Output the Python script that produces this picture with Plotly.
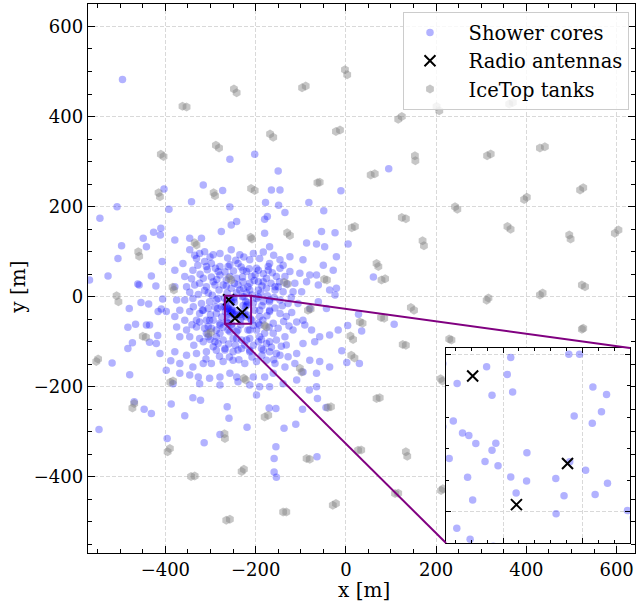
import plotly.graph_objects as go

# ---------------- data ----------------
core_x = [
    -242, -180, -169, -254, -54, -24, -276, -320, -346, -379, -87, -65, -47, -346, -324, -313, -294, -254, -235, -213,
    -191, -169, -146, -124, -95, -50, -21, -331, -313, -298, -361, -379, -339, -279, -261, -239, -220, -194, -172, -146,
    -124, -102, -80, -65, -28, -357, -316, -279, -257, -242, -228, -209, -194, -176, -154, -135, -113, -87, -61, -36,
    -21, -379, -353, -335, -309, -290, -272, -254, -235, -213, -194, -176, -157, -139, -117, -98, -375, -357, -339, -320,
    -302, -287, -276, -198, -183, -169, -146, -128, -106, -80, -61, -43, -24, -368, -346, -324, -305, -287, -202, -191,
    -169, -146, -132, -109, -95, -379, -357, -331, -309, -294, -279, -209, -194, -375, -353, -331, -313, -298, -279, -261,
    -242, -217, -198, -180, -161, -135, -117, -91, -76, -58, -36, -17, -368, -346, -324, -305, -290, -272, -250, -231,
    -213, -194, -176, -154, -132, -95, -69, -379, -353, -331, -309, -287, -268, -250, -231, -213, -187, -169, -146, -128,
    -109, -80, -58, -36, -368, -339, -316, -298, -272, -250, -224, -198, -176, -157, -135, -113, -95, -65, -368, -346,
    -327, -302, -279, -257, -242, -205, -180, -161, -139, -109, -65, -383, -324, -279, -239, -213, -191, -169,
    -309, -283, -257, -228, -198, -172, -324, -294, -265, -239, -213, -183, -157, -305, -283, -220, -194, -169, -316, -290,
    -191, -169, -302, -279, -239, -213, -191, -161, -309, -287, -257, -242, -220, -191, -169, -294, -268, -239, -213, -183,
    -154,
    -335, -301, -279, -262, -244, -226, -205, -183, -160, -139, -328, -307, -289, -268, -249, -232, -214, -201, -183, -163,
    -147, -342, -323, -298, -286, -265, -247, -229, -217, -203, -186, -166, -150, -131, -346, -327, -313, -296, -281, -263,
    -242, -227, -208, -189, -174, -159, -141, -121, -338, -318, -300, -284, -275, -205, -186, -175, -157, -138, -120, -341,
    -324, -305, -287, -272, -253, -233, -205, -184, -170, -150, -126, -337, -316, -301, -283, -260, -245, -224, -205, -187,
    -165, -143, -310, -280, -258, -237, -208, -186, -160,
    -495, -545, -507, -403, -392, -342, -316, -273, -257, -257, -202, -150, -165, -146, -178, -149, -135, -82, -180, -174,
    -568, -527, -505, -497, -461, -458, -449, -442, -426, -410, -411, -407, -431, -421,
    95, -11, -49, 5, 61, -9, 2, 30, 4, 35, 28, 107,
    -63, -96, -44, -111, -137, -170, -155, -155, -159, -159, -154, -64, -81,
    -483, -473, -483, -518, -479, -547, -469, -447, -431, -387, -396, -357, -339, -322, -314, -279, -263, -259, -219, -198,
    -398, -388, -420, -412, -442, -435, -416, -398, -466, -480, -454, -437, -406, -409, -435, -417,
    -269, -264.5, -255.2, -247.6, -248.7, -253.5, -247, -229.3, -225.9, -221.7, -217.4, -219, -227.6, -221.9, -265.7,
    -269, -262.8, -260.8, -258.6, -252.3, -253.5, -267, -255.7, -251.6, -242.5, -261.2, -247.6, -242.6, -233.4, -229,
    -224, -217.1, -259.6, -245.9, -230.8, -221, -233.3, -210.8, -264.6, -260.4, -253.1,
]
core_y = [
    167, 141, 111, 159, 145, 142, 145, 130, 130, 126, 119, 117, 111, 104, 96, 100, 93, 104, 93, 82,
    85, 74, 82, 89, 82, 70, 89, 85, 78, 74, 74, 59, 59, 67, 67, 74, 56, 59, 59, 63,
    56, 52, 48, 48, 59, 45, 41, 48, 45, 41, 33, 45, 33, 41, 45, 45, 30, 33, 26, 15,
    19, 22, 22, 26, 22, 26, 26, 19, 15, 15, 15, 19, 15, 11, 11, 11, -7, -7, -4, -15,
    -11, -7, -22, -4, -11, -11, -7, -15, -15, -26, -11, -26, 4, -30, -33, -37, -26, -37, -30, -44,
    -30, -37, -44, -56, -52, -44, -52, -52, -52, -52, -59, -52, -59, -67, -74, -67, -70, -70, -81, -74,
    -78, -74, -74, -81, -81, -89, -74, -63, -74, -89, -85, -74, -89, -89, -93, -89, -100, -96, -93, -96,
    -93, -100, -104, -96, -107, -104, -100, -122, -130, -126, -122, -119, -115, -122, -115, -119, -115, -122, -130, -133,
    -126, -141, -144, -156, -148, -156, -148, -148, -144, -141, -148, -144, -141, -148, -156, -148, -167, -170, -170, -174,
    -178, -181, -178, -170, -178, -178, -178, -170, -193, -185, -200, -193, -193, -196, -189, -196, -200, -200,
    67, 56, 71, 59, 63, 67, 30, 33, 37, 26, 30, 33, 22, 8, -4, 8, 0, -7, -30, -22,
    -30, -33, -52, -63, -74, -74, -63, -59, -81, -89, -78, -93, -96, -89, -100, -111, -118, -118, -122, -118,
    -126,
    92, 88, 96, 86, 81, 88, 96, 99, 92, 70, 70, 60, 63, 55, 57, 66, 62, 49, 51, 53,
    33, 40, 50, 44, 38, 24, 30, 44, 22, 36, 24, 30, 22, 28, 10, 5, 14, 3, 15, 8,
    9, 18, 4, 8, 2, -2, -20, -2, -22, -30, -40, -26, -45, -14, -20, -42, -25, -55, -35, -62,
    -56, -66, -74, -68, -66, -62, -64, -52, -68, -70, -65, -108, -100, -95, -104, -105, -108, -107, -108, -95,
    -112, -110, -138, -132, -134, -140, -134, -130, -140,
    482, 174, 200, 239, 194, 211, 248, 236, 199, 305, 316, 279, 237, 237, 209, 203, 187, 209, 172, 178,
    37, 46, 85, 113, 28, 26, 130, 111, 143, 152, 137, 78, 46, 24,
    284, 235, 191, 117, 44, -120, -146, -148, -64, -76, -39, -61,
    -226, -250, -246, -283, -292, -247, -248, -333, -359, -389, -401, -355, -207,
    -68, -102, -115, -147, -173, -295, -233, -250, -259, -238, -315, -264, -224, -230, -324, -306, -244, -270, -290, -218,
    -163, -142, -104, -126, -63, -63, -33, -33, -61, -26, -13, -16, -5, -27, -101, -86,
    -3, -9.3, -4, -1, -6.4, -13, -12, 0, 0, -10.4, -12.8, -18.3, -19.6, -21.9, -21.2,
    -23, -25, -25.8, -28.4, -28.3, -30.5, -33.1, -34.1, -35.4, -31.3, -39.1, -39, -40.3, -39.5, -34.2,
    -36.9, -41, -46.3, -44.1, -45, -44.6, -50.7, -49.7, -55.3, -58.8, -61,
]

tank_x = [
    -362, -353, -248, -242, -97, -89, -410, -404, -288, -281, -168, -161, -415, -412, -293, -290, -210, -202, -63, -58,
    -460, -458, -335, -331, -211, -208, -130, -124, -384, -381, -259, -254, -137, -129, -508, -504, -2, 3, -22, -13,
    116, 124, 201, 207, 362, 370, 55, 64, 153, 154, 313, 321, 430, 441, 13, 20, 124, 133, 242, 247,
    395, 401, 519, 526, 170, 173, 358, 365, 495, 498, 596, 604, 68, 72, 79, 87, -48, -42, 523, 530,
    312, 316, 430, 436, -450, -443, -553, -549, -305, -299, -180, -176, -389, -383, -226, -222, -473, -469, -395, -390,
    -269, -268, -343, -335, -231, -226, -265, -257, -180, -172, -139, -132, -102, -98, -87, -80, -84, -78, 78, 85,
    144, 151, 31, 37, 10, 16, 126, 133, 12, 19, 229, 234, 210, 214, 68, 75, -40, -33, 27, 34,
    133, 136, 109, 116, 211, 215, -29, -22, 523, 526,
]
tank_y = [
    423, 421, 461, 453, 464, 468, 316, 311, 336, 330, 361, 354, 231, 222, 231, 224, 240, 236, 253, 254,
    100, 90, 120, 115, 132, 128, 142, 136, 21, 15, 41, 37, 32, 28, 2, -11, 504, 493, 367, 370,
    394, 400, 422, 413, 428, 431, 270, 273, 313, 302, 313, 317, 330, 333, 153, 156, 176, 173, 200, 194,
    216, 221, 237, 242, 124, 113, 156, 150, 137, 128, 141, 148, 74, 67, 37, 40, 39, 37, 26, 22,
    -8, -3, 4, 8, -88, -90, -144, -138, -83, -79, -64, -67, -190, -187, -181, -185, -247, -237, -344, -337,
    -304, -315, -399, -398, -388, -383, -496, -494, -267, -263, -478, -478, -159, -167, -359, -361, -30, -27, -46, -48,
    -24, -30, -56, -59, -87, -95, -106, -108, -130, -136, -94, -96, -182, -187, -226, -224, -246, -244, -341, -340,
    -344, -354, -437, -436, -430, -426, -463, -459, -72, -70,
]

ant_x = [-259.6, -245.8, -229.7]
ant_y = [-6.9, -47.8, -34.7]

main_xrange = [-571.4, 640.7]
main_yrange = [-568.9, 649.8]
zoom_xrange = [-268, -210]
zoom_yrange = [-60, 2]
inset_xdomain = [0.6545, 0.9909]
inset_ydomain = [0.0182, 0.3734]

FONT = "DejaVu Serif"
PURPLE = "#800080"
GRID = "#d9d9d9"
NB = "\u00a0\u00a0\u00a0"

core_marker = dict(color="rgba(0,0,255,0.3)", size=7.5, line=dict(width=0))
tank_marker = dict(color="rgba(128,128,128,0.45)", size=9, symbol="hexagon", line=dict(width=0))
ant_marker = dict(color="black", size=11, symbol="x-thin", line=dict(width=2, color="black"))

fig = go.Figure()
fig.add_trace(go.Scatter(x=core_x, y=core_y, mode="markers", marker=core_marker,
                         name=NB + "Shower cores", legendrank=1))
fig.add_trace(go.Scatter(x=tank_x, y=tank_y, mode="markers", marker=tank_marker,
                         name=NB + "IceTop tanks", legendrank=3))
fig.add_trace(go.Scatter(x=ant_x, y=ant_y, mode="markers", marker=ant_marker,
                         name=NB + "Radio antennas", legendrank=2))
# inset
fig.add_trace(go.Scatter(x=core_x, y=core_y, mode="markers", marker=core_marker,
                         xaxis="x2", yaxis="y2", showlegend=False))
fig.add_trace(go.Scatter(x=ant_x, y=ant_y, mode="markers", marker=ant_marker,
                         xaxis="x2", yaxis="y2", showlegend=False))

common_axis = dict(
    showline=True, linecolor="black", linewidth=1.4, mirror="allticks",
    ticks="inside", tickcolor="black", tickwidth=1.2,
    showgrid=True, gridcolor=GRID, gridwidth=1, griddash="4px,2px",
    zeroline=False,
)

fig.update_layout(
    width=637, height=607,
    margin=dict(l=88, r=2, t=4, b=54),
    paper_bgcolor="white", plot_bgcolor="white",
    font=dict(family=FONT, size=18, color="black"),
    showlegend=True,
    legend=dict(x=0.989, xanchor="right", y=0.985, yanchor="top",
                bgcolor="rgba(255,255,255,0.8)", bordercolor="#cccccc", borderwidth=1,
                font=dict(family=FONT, size=19.5), indentation=6, tracegroupgap=0),
    xaxis=dict(range=main_xrange, dtick=200, tick0=0, ticklen=7,
               minor=dict(ticks="inside", ticklen=4, dtick=50, tick0=0, tickcolor="black", showgrid=False),
               domain=[0, 1], **common_axis),
    yaxis=dict(range=main_yrange, dtick=200, tick0=0, ticklen=7,
               minor=dict(ticks="inside", ticklen=4, dtick=50, tick0=0, tickcolor="black", showgrid=False),
               domain=[0, 1], **common_axis),
    xaxis2=dict(range=zoom_xrange, domain=inset_xdomain, anchor="y2", dtick=25, tick0=0, ticklen=5,
                showticklabels=False,
                minor=dict(ticks="inside", ticklen=3, dtick=5, tick0=0, tickcolor="black", showgrid=False),
                **common_axis),
    yaxis2=dict(range=zoom_yrange, domain=inset_ydomain, anchor="x2", dtick=50, tick0=0, ticklen=5,
                showticklabels=False,
                minor=dict(ticks="inside", ticklen=3, dtick=10, tick0=0, tickcolor="black", showgrid=False),
                **common_axis),
    annotations=[
        dict(text="x [m]", xref="paper", yref="paper", x=0.5046, y=-0.0674,
             xanchor="center", yanchor="middle", showarrow=False, font=dict(family=FONT, size=20)),
        dict(text="y [m]", xref="paper", yref="paper", x=-0.128, y=0.485, textangle=-90,
             xanchor="center", yanchor="middle", showarrow=False, font=dict(family=FONT, size=20)),
    ],
)

# zoom box and connector lines
def main_x_at(frac):
    return main_xrange[0] + frac * (main_xrange[1] - main_xrange[0])

def main_y_at(frac):
    return main_yrange[0] + frac * (main_yrange[1] - main_yrange[0])

fig.add_shape(type="rect", xref="x", yref="y",
              x0=zoom_xrange[0], x1=zoom_xrange[1], y0=zoom_yrange[0], y1=zoom_yrange[1],
              line=dict(color=PURPLE, width=2), layer="above")
fig.add_shape(type="line", xref="x", yref="y",
              x0=zoom_xrange[1], y0=zoom_yrange[1],
              x1=main_x_at(inset_xdomain[1]), y1=main_y_at(inset_ydomain[1]),
              line=dict(color=PURPLE, width=2), layer="above")
fig.add_shape(type="line", xref="x", yref="y",
              x0=zoom_xrange[0], y0=zoom_yrange[0],
              x1=main_x_at(inset_xdomain[0]), y1=main_y_at(inset_ydomain[0]),
              line=dict(color=PURPLE, width=2), layer="above")

fig.write_html("out.html")
